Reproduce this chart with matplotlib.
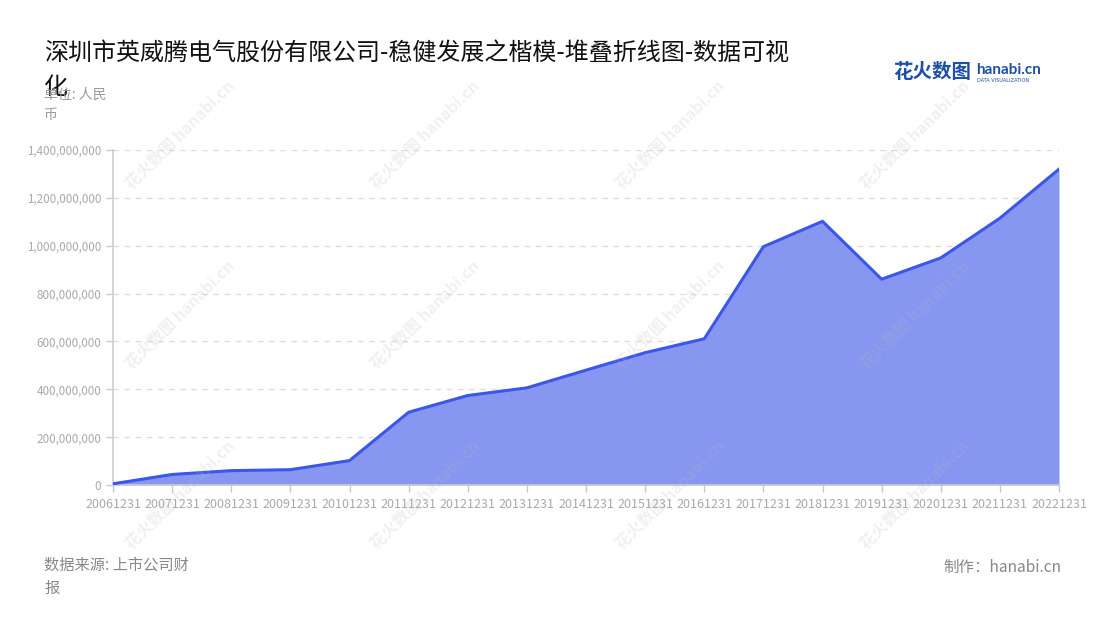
import matplotlib
matplotlib.use('Agg')
import matplotlib.pyplot as plt
from matplotlib.ticker import FuncFormatter

plt.rcParams['font.family'] = ['Noto Sans CJK SC', 'DejaVu Sans']

# report dates and values (RMB)
dates = ['20061231', '20071231', '20081231', '20091231', '20101231',
         '20111231', '20121231', '20131231', '20141231', '20151231',
         '20161231', '20171231', '20181231', '20191231', '20201231',
         '20211231', '20221231']
values = [5e6, 44e6, 60e6, 64e6, 102e6,
          304e6, 374e6, 406e6, 480e6, 553e6,
          611e6, 996e6, 1102e6, 860e6, 949e6,
          1115e6, 1320e6]
y_ticks = [0, 200e6, 400e6, 600e6, 800e6, 1000e6, 1200e6, 1400e6]

title = '深圳市英威腾电气股份有限公司-稳健发展之楷模-堆叠折线图-数据可视\n化'
unit = '单位: 人民\n币'
source = '数据来源: 上市公司财\n报'
credit = '制作：hanabi.cn'

LINE = '#3b57ea'
FILL = '#8797f1'
TICK = '#a8a8b0'

fig = plt.figure(figsize=(11, 6.2), dpi=100)
ax = fig.add_axes([113 / 1100, 1 - 485 / 620, 946 / 1100, 335 / 620])

x = list(range(len(dates)))
ax.fill_between(x, values, 0, color=FILL, linewidth=0, zorder=2)
ax.plot(x, values, color=LINE, linewidth=2.2, zorder=3)

ax.set_xlim(0, len(dates) - 1)
ax.set_ylim(0, 1.4e9)
ax.set_xticks(x)
ax.set_xticklabels(dates, fontsize=9)
ax.set_yticks(y_ticks)
ax.yaxis.set_major_formatter(FuncFormatter(lambda v, _: f'{int(v):,}'))

ax.tick_params(axis='both', colors='#c8c8c8', labelcolor=TICK,
               length=5, width=1)
ax.tick_params(axis='y', labelsize=8.4)
ax.tick_params(axis='x', labelsize=9, pad=4)
for side in ('top', 'right'):
    ax.spines[side].set_visible(False)
for side in ('left', 'bottom'):
    ax.spines[side].set_color('#cccccc')
    ax.spines[side].set_linewidth(1.2)
ax.grid(axis='y', color='#dddddd', linestyle=(0, (4, 4)), linewidth=1, zorder=1)
ax.set_axisbelow(True)

# faint watermarks
for wx in (180, 425, 670, 915):
    for wy in (135, 315, 495):
        fig.text(wx / 1100, 1 - wy / 620, '花火数图 hanabi.cn', rotation=45,
                 ha='center', va='center', fontsize=11.5, fontweight='bold',
                 color='#b5b5b5', alpha=0.2, zorder=5)

fig.text(44 / 1100, 1 - 41 / 620, title, ha='left', va='top',
         fontsize=17.3, color='#111111', linespacing=1.33)
fig.text(44 / 1100, 1 - 88 / 620, unit, ha='left', va='top',
         fontsize=10, color='#999999', linespacing=1.5)
fig.text(44 / 1100, 1 - 557 / 620, source, ha='left', va='top',
         fontsize=11, color='#888888', linespacing=1.45)
fig.text(1061 / 1100, 1 - 567 / 620, credit, ha='right', va='center',
         fontsize=11.2, color='#888888')

# logo
fig.text(893 / 1100, 1 - 73 / 620, '花火数图', ha='left', va='center',
         fontsize=14, fontweight='bold', color='#1d4fa8')
fig.text(976 / 1100, 1 - 70 / 620, 'hanabi.cn', ha='left', va='center',
         fontsize=11, fontweight='bold', color='#1d4fa8',
         family=['Lato', 'DejaVu Sans'])
fig.text(977 / 1100, 1 - 80 / 620, 'DATA VISUALIZATION', ha='left', va='center',
         fontsize=3.6, color='#1d4fa8', family=['DejaVu Sans'])

fig.savefig('out.png', dpi=100)
